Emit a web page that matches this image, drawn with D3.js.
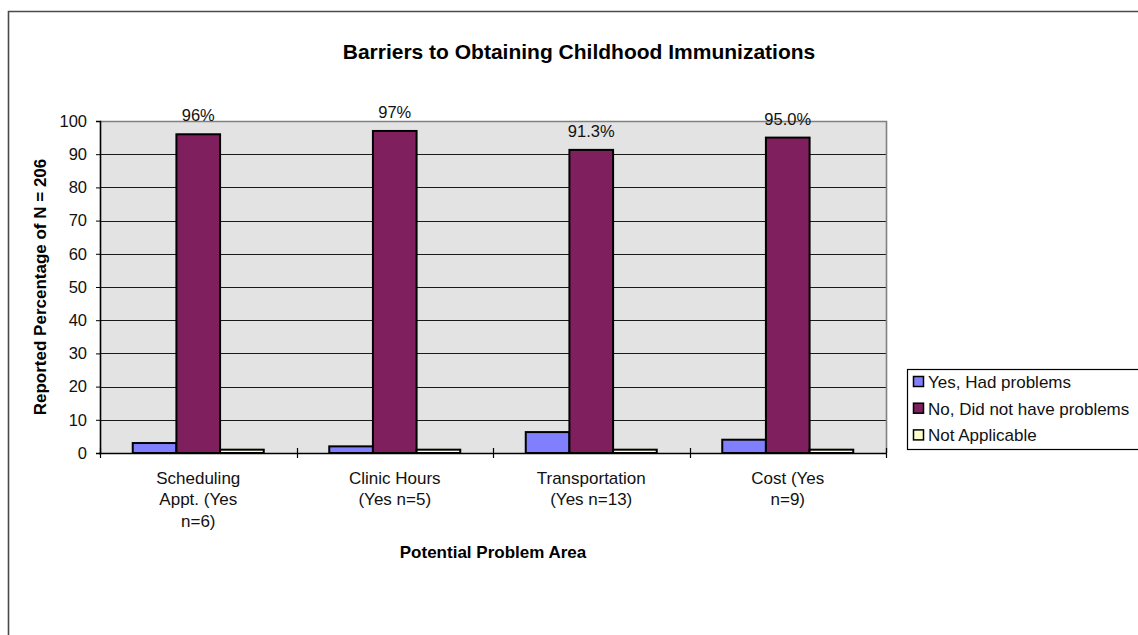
<!DOCTYPE html>
<html>
<head>
<meta charset="utf-8">
<script src="https://cdn.jsdelivr.net/npm/d3@7"></script>
<style>
  html, body { margin: 0; padding: 0; background: #fff; }
  svg { display: block; font-family: "Liberation Sans", Arial, sans-serif; }
</style>
</head>
<body>
<svg id="chart" width="1138" height="635"></svg>
<script>
// Survey categories (axis tick labels are wrapped over several lines)
const categories = ["Scheduling Appt. (Yes n=6)", "Clinic Hours (Yes n=5)", "Transportation (Yes n=13)", "Cost (Yes n=9)"];
const categoryLines = [
  ["Scheduling", "Appt. (Yes", "n=6)"],
  ["Clinic Hours", "(Yes n=5)"],
  ["Transportation", "(Yes n=13)"],
  ["Cost (Yes", "n=9)"]
];
const seriesNames = ["Yes, Had problems", "No, Did not have problems", "Not Applicable"];
const yesValues = [3, 2, 6.3, 4];
const noValues = [96, 97, 91.3, 95.0];
const naValues = [1, 1, 1, 1];
const noLabels = ["96%", "97%", "91.3%", "95.0%"];
const yTicks = [0, 10, 20, 30, 40, 50, 60, 70, 80, 90, 100];
const seriesColors = ["#8080ff", "#7f1f5e", "#ffffcc"];

const seriesValues = [yesValues, noValues, naValues];
const rows = categories.map((c, i) => ({
  category: c,
  values: seriesNames.map((s, k) => ({ series: s, value: seriesValues[k][i] }))
}));

const svg = d3.select("#chart");

// outer chart frame
svg.append("path")
  .attr("d", "M8.5,635 L8.5,11.5 L1138,11.5")
  .attr("fill", "none").attr("stroke", "#4a4a4a").attr("stroke-width", 1.6);

const plot = { left: 100, right: 886, top: 121, bottom: 453 };

const x0 = d3.scaleBand().domain(categories).range([plot.left, plot.right]).paddingInner(0).paddingOuter(0);
const x1 = d3.scaleBand().domain(seriesNames).range([0, x0.bandwidth()]).paddingInner(0).paddingOuter(0.75);
const y = d3.scaleLinear().domain([0, 100]).range([plot.bottom, plot.top]);
const color = d3.scaleOrdinal().domain(seriesNames).range(seriesColors);

// title
svg.append("text")
  .attr("x", 579).attr("y", 59)
  .attr("text-anchor", "middle")
  .attr("font-size", 21).attr("font-weight", "bold")
  .text("Barriers to Obtaining Childhood Immunizations");

// plot background
svg.append("rect")
  .attr("x", plot.left).attr("y", plot.top)
  .attr("width", plot.right - plot.left).attr("height", plot.bottom - plot.top)
  .attr("fill", "#e3e3e3");

// horizontal gridlines
svg.append("g")
  .selectAll("line")
  .data(yTicks.filter(d => d > 0 && d < 100))
  .join("line")
  .attr("x1", plot.left).attr("x2", plot.right)
  .attr("y1", d => Math.round(y(d)) + 0.5).attr("y2", d => Math.round(y(d)) + 0.5)
  .attr("stroke", "#1a1a1a").attr("stroke-width", 1);

// plot border (top and right)
svg.append("path")
  .attr("d", `M${plot.left},${plot.top + 0.5} L${plot.right + 0.5},${plot.top + 0.5} L${plot.right + 0.5},${plot.bottom}`)
  .attr("fill", "none").attr("stroke", "#808080").attr("stroke-width", 1.6);

// bars
const groups = svg.append("g")
  .selectAll("g")
  .data(rows)
  .join("g")
  .attr("transform", d => `translate(${x0(d.category)},0)`);

groups.selectAll("rect")
  .data(d => d.values)
  .join("rect")
  .attr("x", d => x1(d.series))
  .attr("y", d => y(d.value))
  .attr("width", x1.bandwidth())
  .attr("height", d => y(0) - y(d.value))
  .attr("fill", d => color(d.series))
  .attr("stroke", "#000").attr("stroke-width", 2);

// data labels for the "No" series
svg.append("g")
  .selectAll("text")
  .data(rows)
  .join("text")
  .attr("x", d => x0(d.category) + x1(seriesNames[1]) + x1.bandwidth() / 2)
  .attr("y", (d, i) => y(noValues[i]) - 13)
  .attr("text-anchor", "middle")
  .attr("font-size", 16.5)
  .attr("fill", "#111")
  .text((d, i) => noLabels[i]);

// y axis
const yAxis = d3.axisLeft(y).tickValues(yTicks).tickSize(4).tickPadding(9).tickFormat(d3.format("d"));
const gy = svg.append("g")
  .attr("transform", `translate(${plot.left},0)`)
  .call(yAxis);
gy.select(".domain").attr("stroke", "#000").attr("stroke-width", 1.6);
gy.selectAll(".tick line").attr("stroke", "#000");
gy.selectAll(".tick text")
  .attr("font-size", 16.5).attr("font-family", "Liberation Sans, Arial, sans-serif").attr("fill", "#111");

// x axis with ticks between categories, crossing the baseline
const boundaries = categories.map(c => x0(c)).concat([plot.right]);
const gx = svg.append("g");
gx.append("line")
  .attr("x1", plot.left - 1).attr("x2", plot.right + 1)
  .attr("y1", plot.bottom + 0.5).attr("y2", plot.bottom + 0.5)
  .attr("stroke", "#000").attr("stroke-width", 1.6);
gx.selectAll("line.tk")
  .data(boundaries)
  .join("line")
  .attr("class", "tk")
  .attr("x1", d => Math.round(d) + 0.5).attr("x2", d => Math.round(d) + 0.5)
  .attr("y1", plot.bottom - 5).attr("y2", plot.bottom + 5)
  .attr("stroke", "#000").attr("stroke-width", 1.2);

// category labels
const catLabels = svg.append("g")
  .selectAll("text")
  .data(categories)
  .join("text")
  .attr("x", d => x0(d) + x0.bandwidth() / 2)
  .attr("y", 484)
  .attr("text-anchor", "middle")
  .attr("font-size", 17)
  .attr("fill", "#111");
catLabels.selectAll("tspan")
  .data((d, i) => categoryLines[i])
  .join("tspan")
  .attr("x", function () { return d3.select(this.parentNode).attr("x"); })
  .attr("dy", (d, i) => i === 0 ? 0 : 21.3)
  .text(d => d);

// axis titles
svg.append("text")
  .attr("x", (plot.left + plot.right) / 2).attr("y", 558)
  .attr("text-anchor", "middle")
  .attr("font-size", 17).attr("font-weight", "bold")
  .text("Potential Problem Area");

svg.append("text")
  .attr("transform", `translate(46,${(plot.top + plot.bottom) / 2}) rotate(-90)`)
  .attr("text-anchor", "middle")
  .attr("font-size", 17).attr("font-weight", "bold")
  .text("Reported Percentage of N = 206");

// legend
const legend = svg.append("g");
legend.append("rect")
  .attr("x", 907.5).attr("y", 369.5)
  .attr("width", 232).attr("height", 80)
  .attr("fill", "#fff").attr("stroke", "#000").attr("stroke-width", 1.2);
const items = legend.selectAll("g.item")
  .data(seriesNames)
  .join("g")
  .attr("class", "item")
  .attr("transform", (d, i) => `translate(913,${388 + i * 26.7})`);
items.append("rect")
  .attr("x", 0.5).attr("y", -11.5)
  .attr("width", 10).attr("height", 10)
  .attr("fill", d => color(d))
  .attr("stroke", "#000").attr("stroke-width", 1.5);
items.append("text")
  .attr("x", 15).attr("y", 0)
  .attr("font-size", 17).attr("fill", "#111")
  .text(d => d);
</script>
</body>
</html>
